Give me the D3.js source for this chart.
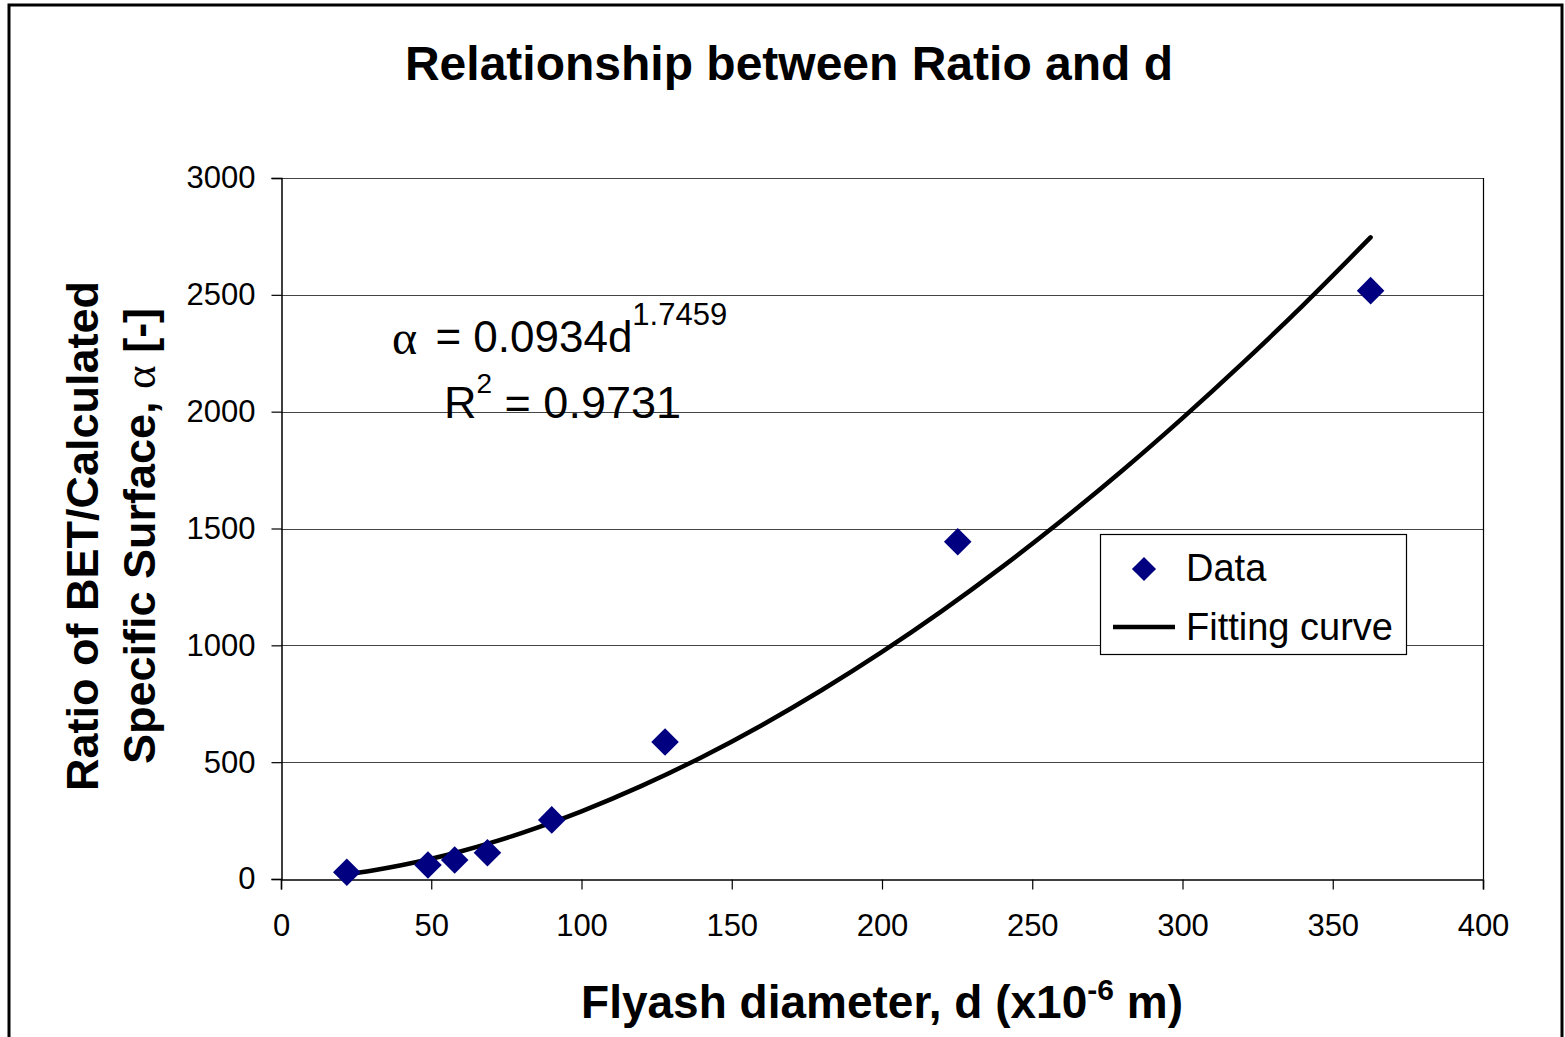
<!DOCTYPE html>
<html>
<head>
<meta charset="utf-8">
<script src="https://cdn.jsdelivr.net/npm/d3@7"></script>
<style>
  html, body { margin: 0; padding: 0; background: #fff; }
  svg { display: block; }
  text { font-family: "Liberation Sans", Arial, sans-serif; fill: #000; }
</style>
</head>
<body>
<svg id="chart" width="1565" height="1037"></svg>
<script>
// ---- data ----
const dataD = [21.9, 48.9, 57.8, 68.7, 90.1, 127.8, 225.2, 362.6];
const dataAlpha = [29, 60, 81, 112, 253, 586, 1443, 2518];

// fitting curve alpha = 0.0934 d^1.7459
const fitD = [22, 30, 40, 50, 60, 70, 80, 90, 100, 120, 140, 160, 180, 200, 220, 240, 260, 280, 300, 320, 340, 362.6];
const fitAlpha = [20.6, 35.4, 58.5, 86.4, 118.8, 155.5, 196.3, 241.1, 289.7, 398.4, 521.4, 658.3, 808.7, 971.7, 1147.5, 1335.8, 1536.2, 1748.4, 1972.5, 2207.8, 2454.1, 2746.1];

const xTicks = [0, 50, 100, 150, 200, 250, 300, 350, 400];
const yTicks = [0, 500, 1000, 1500, 2000, 2500, 3000];

const titleText = "Relationship between Ratio and d";
const legendLabels = ["Data", "Fitting curve"];

// ---- layout ----
const svg = d3.select("#chart");
const L = 281, R = 1483, T = 178, B = 879;

const x = d3.scaleLinear().domain([0, 400]).range([L, R]);
const y = d3.scaleLinear().domain([0, 3000]).range([B, T]);

// outer border
svg.append("rect")
  .attr("x", 9).attr("y", 5).attr("width", 1553).attr("height", 1060)
  .attr("fill", "none").attr("stroke", "#000").attr("stroke-width", 3);

// title
svg.append("text")
  .attr("x", 789).attr("y", 80)
  .attr("text-anchor", "middle")
  .style("font-size", "48px").style("font-weight", "bold")
  .text(titleText);

// gridlines
svg.append("g").selectAll("line")
  .data(yTicks.filter(v => v > 0))
  .join("line")
  .attr("x1", L).attr("x2", R)
  .attr("y1", d => Math.round(y(d)) + 0.5).attr("y2", d => Math.round(y(d)) + 0.5)
  .attr("stroke", "#444").attr("stroke-width", 1);

// right border of plot area
svg.append("line")
  .attr("x1", R + 0.5).attr("x2", R + 0.5).attr("y1", T).attr("y2", B)
  .attr("stroke", "#000").attr("stroke-width", 1.2);

// y axis
const yAxis = d3.axisLeft(y).tickValues(yTicks).tickSize(10).tickPadding(16).tickFormat(d3.format("d"));
const gy = svg.append("g").attr("transform", `translate(${L + 0.5},0)`).call(yAxis);
gy.select(".domain").attr("stroke", "#000").attr("stroke-width", 1.5);
gy.selectAll(".tick line").attr("stroke", "#000").attr("stroke-width", 1.2);
gy.selectAll(".tick text").style("font-size", "31px").style("font-family", "Liberation Sans, Arial, sans-serif").attr("fill", "#000");

// x axis
const xAxis = d3.axisBottom(x).tickValues(xTicks).tickSize(10).tickPadding(24).tickFormat(d3.format("d"));
const gx = svg.append("g").attr("transform", `translate(0,${B + 0.5})`).call(xAxis);
gx.select(".domain").attr("stroke", "#000").attr("stroke-width", 1.5);
gx.selectAll(".tick line").attr("stroke", "#000").attr("stroke-width", 1.2);
gx.selectAll(".tick text").style("font-size", "31px").style("font-family", "Liberation Sans, Arial, sans-serif").attr("fill", "#000");

// fitting curve
const fitPts = fitD.map((d, i) => [d, fitAlpha[i]]);
svg.append("path")
  .datum(fitPts)
  .attr("d", d3.line().x(d => x(d[0])).y(d => y(d[1])).curve(d3.curveMonotoneX))
  .attr("fill", "none").attr("stroke", "#000").attr("stroke-width", 4.5)
  .attr("stroke-linecap", "round").attr("stroke-linejoin", "round");

// data diamonds
const diamond = d3.symbol(d3.symbolSquare, 380);
svg.append("g").selectAll("path")
  .data(dataD.map((d, i) => [d, dataAlpha[i]]))
  .join("path")
  .attr("d", diamond)
  .attr("transform", d => `translate(${x(d[0])},${y(d[1])}) rotate(45)`)
  .attr("fill", "#000080");

// equation
const eq = svg.append("text").attr("x", 392).attr("y", 354).style("font-size", "44px");
eq.append("tspan").style("font-family", "Liberation Serif, Times New Roman, serif").style("font-size", "48px").text("α");
eq.append("tspan").attr("dx", 6).attr("dy", -2).text(" = 0.0934d");
eq.append("tspan").attr("dy", -27).style("font-size", "31px").text("1.7459");

const r2 = svg.append("text").attr("x", 444).attr("y", 418).style("font-size", "45px");
r2.append("tspan").text("R");
r2.append("tspan").attr("dy", -25).style("font-size", "28px").text("2");
r2.append("tspan").attr("dy", 25).text(" = 0.9731");

// legend
const lg = svg.append("g");
lg.append("rect").attr("x", 1100.5).attr("y", 534.5).attr("width", 306).attr("height", 120)
  .attr("fill", "#fff").attr("stroke", "#000").attr("stroke-width", 1.2);
lg.append("path").attr("d", d3.symbol(d3.symbolSquare, 290))
  .attr("transform", "translate(1144,569) rotate(45)").attr("fill", "#000080");
lg.append("line").attr("x1", 1113).attr("x2", 1175).attr("y1", 627).attr("y2", 627)
  .attr("stroke", "#000").attr("stroke-width", 4.5);
lg.append("text").attr("x", 1186).attr("y", 581).style("font-size", "38px").text(legendLabels[0]);
lg.append("text").attr("x", 1186).attr("y", 640).style("font-size", "38px").text(legendLabels[1]);

// x axis title
const xt = svg.append("text").attr("x", 882).attr("y", 1018).attr("text-anchor", "middle")
  .style("font-size", "46px").style("font-weight", "bold");
xt.append("tspan").text("Flyash diameter, d (x10");
xt.append("tspan").attr("dy", -18).style("font-size", "30px").text("-6");
xt.append("tspan").attr("dy", 18).text(" m)");

// y axis title (two lines, rotated)
const yt = svg.append("g").attr("transform", "translate(0,536) rotate(-90)");
yt.append("text").attr("x", 0).attr("y", 98).attr("text-anchor", "middle")
  .style("font-size", "45px").style("font-weight", "bold")
  .text("Ratio of BET/Calculated");
const yt2 = yt.append("text").attr("x", 0).attr("y", 155).attr("text-anchor", "middle")
  .style("font-size", "45px").style("font-weight", "bold");
yt2.append("tspan").text("Specific Surface, ");
yt2.append("tspan").style("font-family", "Liberation Serif, Times New Roman, serif").style("font-weight", "normal").text("α");
yt2.append("tspan").text(" [-]");
</script>
</body>
</html>
